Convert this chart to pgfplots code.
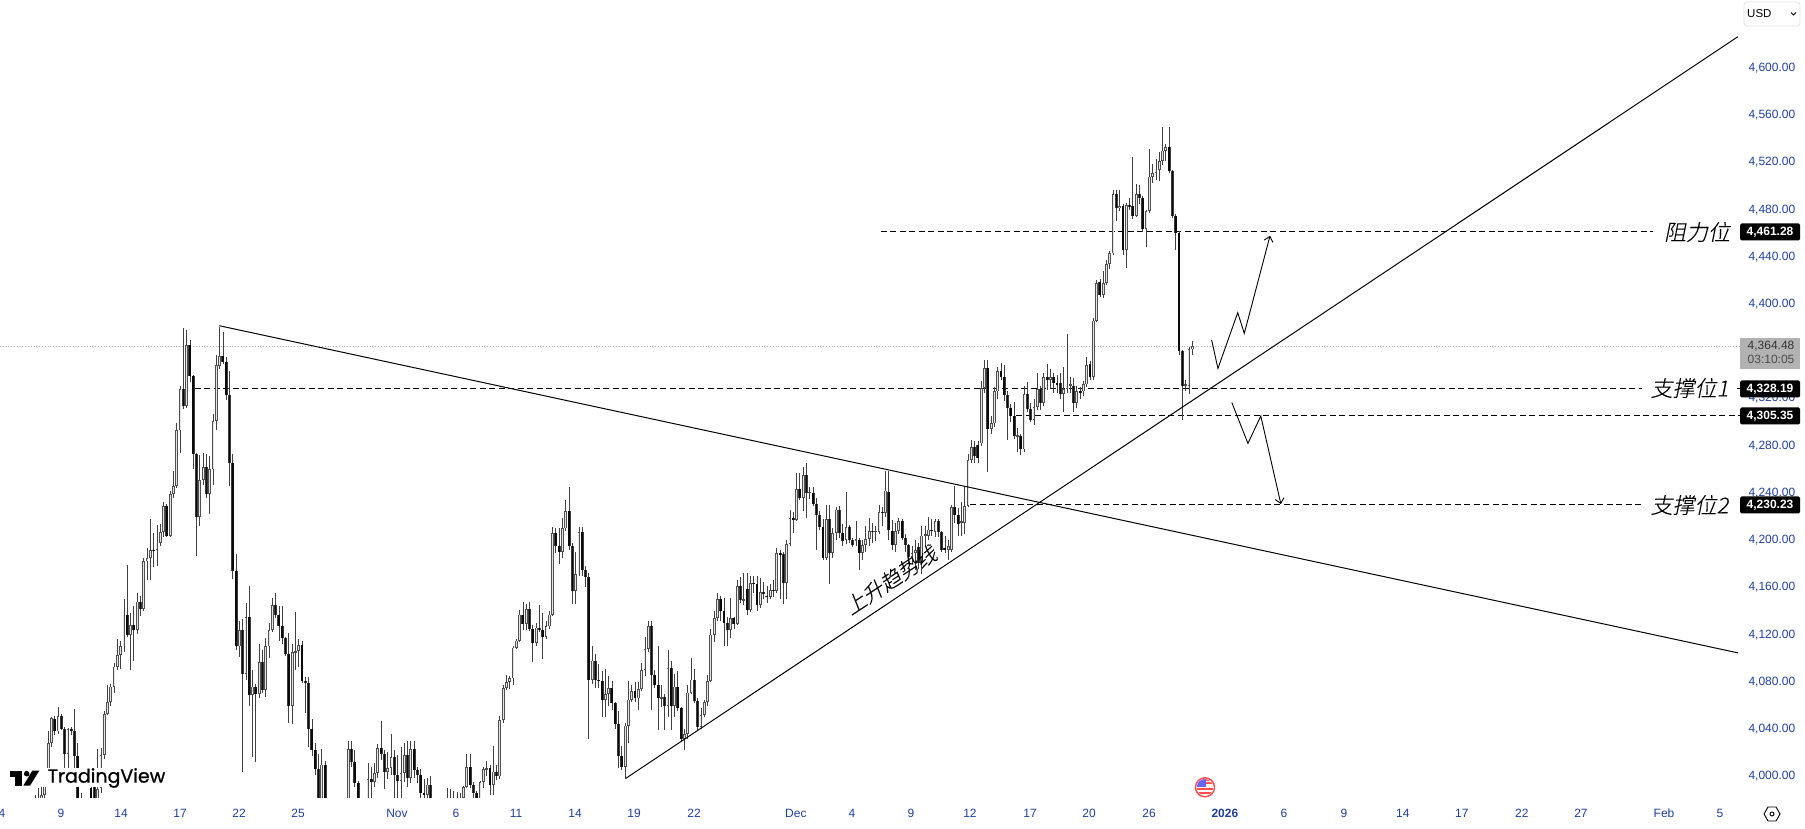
\documentclass[border=0pt]{standalone}
\usepackage{fontspec}
\usepackage{pgfplots}
\usepackage{pgfplotstable}
\pgfplotsset{compat=1.18}
\usetikzlibrary{arrows.meta}
\setmainfont{Liberation Sans}
\newfontfamily\cjk[FakeSlant=0.2,FakeBold=0.15]{Noto Sans CJK SC Light}
\newfontfamily\tvfont[FakeBold=0.8]{Poppins}
\definecolor{tvblue}{HTML}{1F3F9F}
\definecolor{wick}{HTML}{404040}
\definecolor{upedge}{HTML}{505050}
\definecolor{upin}{HTML}{E4E4E4}
\definecolor{dnedge}{HTML}{3A3A3A}
\definecolor{dnbody}{HTML}{0A0A0A}
\pgfplotstableread{
i o h l c
10 3971 3984 3956 3976
11 3974 3990 3966 3981
12 3980 3992 3971 3984
13 3984 4006 3981 4000
14 4000 4038 3996 4028
15 4028 4050 4025 4049
16 4049 4051 4035 4038
17 4038 4059 4036 4051
18 4051 4053 4039 4040
19 4040 4042 4003 4019
20 4019 4041 4003 4040
21 4040 4042 4035 4038
22 4038 4057 4004 4017
23 4017 4028 3976 3981
24 3981 3986 3961 3971
25 3971 3976 3956 3964
26 3966 3971 3946 3956
27 3990 3994 3966 3971
28 3991 3994 3968 3974
29 3974 4023 3971 3989
30 3990 4024 3986 4018
31 4018 4055 4015 4053
32 4053 4077 4052 4063
33 4063 4078 4060 4076
34 4076 4096 4071 4093
35 4093 4116 4090 4103
36 4103 4115 4091 4110
37 4110 4150 4105 4137
38 4137 4179 4118 4120
39 4120 4138 4090 4128
40 4128 4144 4098 4124
41 4124 4155 4121 4148
42 4148 4153 4136 4142
43 4142 4185 4140 4182
44 4182 4193 4166 4185
45 4185 4218 4166 4192
46 4192 4206 4177 4191
47 4192 4213 4178 4198
48 4198 4214 4195 4207
49 4207 4232 4203 4229
50 4229 4231 4203 4204
51 4204 4242 4203 4239
52 4239 4259 4236 4246
53 4246 4299 4244 4293
54 4293 4331 4274 4328
55 4328 4380 4311 4314
56 4314 4378 4312 4365
57 4365 4370 4334 4339
58 4339 4340 4260 4273
59 4273 4274 4187 4220
60 4220 4272 4212 4251
61 4251 4274 4247 4262
62 4262 4273 4236 4239
63 4239 4271 4222 4260
64 4260 4307 4247 4301
65 4301 4357 4293 4348
66 4348 4381 4345 4356
67 4356 4376 4349 4351
68 4351 4355 4319 4323
69 4323 4343 4246 4265
70 4265 4273 4167 4174
71 4174 4188 4107 4110
72 4110 4132 4101 4124
73 4124 4133 4004 4087
74 4087 4147 4082 4135
75 4135 4161 4060 4069
76 4069 4090 4016 4076
77 4076 4078 4012 4070
78 4070 4112 4066 4097
79 4097 4107 4071 4073
80 4073 4117 4067 4110
81 4110 4130 4100 4124
82 4124 4151 4122 4145
83 4145 4155 4134 4137
84 4137 4144 4115 4127
85 4127 4144 4112 4117
86 4117 4118 4102 4104
87 4104 4121 4045 4060
88 4060 4112 4044 4105
89 4105 4139 4090 4106
90 4106 4116 4093 4111
91 4111 4115 4079 4081
92 4081 4084 4054 4079
93 4079 4084 4025 4040
94 4040 4049 4017 4022
95 4022 4028 4001 4006
96 4006 4019 3971 3976
97 3971 4023 3966 4010
98 4010 4013 3966 3974
99 3974 3976 3956 3961
100 3961 3966 3951 3956
101 3956 3964 3946 3958
102 3958 3971 3951 3966
103 3966 3981 3961 3974
104 3968 3980 3956 3976
105 3976 4030 3971 4023
106 4023 4030 4008 4012
107 4012 4022 3991 3994
108 3994 3996 3971 3978
109 3978 3980 3966 3971
110 3971 3982 3961 3978
111 3978 4011 3971 3998
112 3998 4008 3981 3995
113 3995 4011 3991 4003
114 4003 4027 3999 4024
115 4024 4047 4014 4019
116 4019 4022 3989 4004
117 4004 4021 3998 4007
118 4007 4036 4001 4016
119 4016 4022 3981 4001
120 4001 4018 3980 3996
121 3996 4025 3980 4003
122 4003 4028 3995 4018
123 4018 4030 3991 3999
124 3999 4030 3994 4023
125 4023 4030 3999 4005
126 4005 4008 3994 4001
127 4001 4006 3981 3986
128 3986 3998 3980 3984
129 3984 3999 3980 3993
130 3993 4000 3971 3978
131 3978 3980 3965 3970
132 3970 3974 3958 3966
133 3966 3973 3956 3968
134 3968 3976 3960 3973
135 3975 3990 3970 3982
136 3982 3989 3975 3981
137 3981 3988 3978 3982
138 3982 3987 3975 3980
139 3980 3986 3978 3982
140 3982 3992 3980 3991
141 3991 4019 3990 4008
142 4008 4019 3990 3993
143 3993 3995 3982 3986
144 3986 3988 3975 3978
145 3978 3996 3975 3995
146 3995 4008 3990 4006
147 4006 4013 4000 4007
148 4007 4010 3984 3993
149 3993 4026 3984 4004
150 4004 4010 3997 4000
151 4000 4051 3998 4048
152 4048 4077 4045 4075
153 4075 4086 4073 4080
154 4080 4085 4074 4083
155 4083 4110 4077 4109
156 4109 4116 4108 4115
157 4115 4141 4114 4137
158 4137 4148 4124 4129
159 4129 4146 4124 4142
160 4142 4148 4123 4125
161 4125 4128 4097 4113
162 4113 4130 4110 4126
163 4126 4145 4122 4124
164 4124 4138 4099 4118
165 4118 4132 4116 4127
166 4127 4140 4125 4137
167 4137 4211 4136 4206
168 4206 4210 4189 4195
169 4195 4210 4180 4190
170 4190 4219 4185 4210
171 4210 4234 4208 4225
172 4225 4245 4192 4195
173 4195 4198 4146 4157
174 4157 4190 4146 4171
175 4171 4211 4170 4207
176 4207 4211 4170 4175
177 4175 4178 4160 4169
178 4169 4172 4032 4082
179 4082 4110 4078 4098
180 4098 4104 4075 4082
181 4082 4095 4075 4081
182 4081 4089 4050 4065
183 4065 4091 4050 4070
184 4070 4085 4060 4075
185 4075 4081 4056 4062
186 4062 4063 4040 4044
187 4044 4055 4007 4017
188 4017 4026 4005 4008
189 4008 4045 3998 4043
190 4043 4081 4028 4065
191 4065 4077 4063 4072
192 4072 4080 4063 4066
193 4066 4080 4056 4074
194 4074 4096 4072 4090
195 4090 4118 4085 4108
196 4108 4132 4105 4127
197 4127 4132 4056 4086
198 4086 4090 4075 4077
199 4077 4110 4039 4066
200 4066 4077 4059 4067
201 4067 4070 4039 4060
202 4060 4107 4050 4092
203 4092 4098 4039 4060
204 4060 4087 4050 4076
205 4076 4089 4055 4058
206 4058 4059 4030 4032
207 4032 4040 4022 4036
208 4036 4077 4032 4071
209 4071 4100 4070 4082
210 4082 4091 4062 4064
211 4064 4066 4039 4042
212 4042 4058 4040 4052
213 4052 4065 4050 4063
214 4063 4086 4060 4081
215 4081 4125 4080 4120
216 4120 4140 4114 4134
217 4134 4155 4132 4150
218 4150 4153 4132 4140
219 4140 4151 4110 4130
220 4130 4135 4110 4124
221 4124 4151 4117 4134
222 4134 4135 4125 4129
223 4129 4166 4128 4161
224 4161 4169 4147 4149
225 4149 4172 4145 4150
226 4159 4172 4137 4141
227 4141 4170 4139 4164
228 4164 4170 4155 4163
229 4163 4170 4140 4145
230 4145 4168 4143 4156
231 4156 4165 4150 4155
232 4153 4161 4147 4152
233 4152 4163 4150 4158
234 4158 4166 4152 4157
235 4157 4193 4155 4189
236 4189 4192 4150 4188
237 4188 4190 4146 4164
238 4164 4200 4150 4197
239 4197 4226 4195 4219
240 4219 4224 4206 4217
241 4217 4257 4216 4243
242 4243 4257 4234 4236
243 4236 4262 4225 4255
244 4255 4265 4219 4240
245 4240 4245 4235 4241
246 4240 4245 4229 4231
247 4231 4236 4192 4221
248 4221 4225 4209 4211
249 4211 4218 4183 4185
250 4185 4230 4183 4218
251 4218 4230 4163 4189
252 4189 4210 4185 4206
253 4206 4228 4200 4226
254 4226 4229 4202 4206
255 4206 4214 4195 4199
256 4200 4241 4197 4211
257 4211 4213 4198 4200
258 4200 4202 4194 4196
259 4200 4216 4195 4201
260 4200 4202 4175 4189
261 4189 4200 4183 4196
262 4196 4212 4190 4201
263 4201 4219 4195 4208
264 4208 4215 4198 4207
265 4207 4212 4199 4208
266 4207 4230 4205 4224
267 4224 4228 4212 4223
268 4223 4259 4220 4242
269 4241 4259 4200 4209
270 4208 4217 4192 4196
271 4196 4215 4190 4208
272 4208 4219 4205 4216
273 4216 4218 4200 4202
274 4202 4205 4190 4196
275 4196 4197 4180 4186
276 4186 4195 4180 4189
277 4189 4200 4175 4192
278 4194 4198 4176 4181
279 4181 4212 4171 4204
280 4204 4212 4195 4205
281 4204 4220 4200 4209
282 4209 4218 4204 4208
283 4207 4218 4203 4216
284 4216 4218 4203 4207
285 4207 4208 4190 4192
286 4193 4204 4189 4192
287 4192 4200 4183 4195
288 4192 4230 4190 4228
289 4228 4246 4215 4221
290 4221 4227 4204 4214
291 4215 4232 4204 4216
292 4215 4245 4205 4229
293 4229 4273 4228 4268
294 4268 4285 4265 4279
295 4279 4284 4265 4271
296 4281 4284 4265 4270
297 4282 4335 4280 4329
298 4329 4353 4325 4346
299 4346 4353 4258 4294
300 4294 4305 4290 4299
301 4299 4330 4296 4326
302 4326 4347 4320 4343
303 4343 4350 4336 4338
304 4338 4348 4318 4323
305 4323 4326 4285 4312
306 4312 4315 4300 4305
307 4305 4317 4286 4288
308 4288 4295 4275 4289
309 4288 4290 4272 4277
310 4277 4331 4275 4324
311 4324 4334 4309 4311
312 4311 4316 4300 4302
313 4302 4320 4298 4313
314 4313 4342 4310 4328
315 4328 4331 4310 4316
316 4316 4342 4314 4338
317 4338 4349 4327 4336
318 4336 4345 4328 4338
319 4338 4342 4325 4333
320 4333 4340 4325 4332
321 4333 4342 4320 4324
322 4324 4347 4309 4328
323 4328 4375 4325 4331
324 4331 4338 4325 4332
325 4331 4337 4309 4316
326 4316 4331 4312 4326
327 4326 4330 4320 4325
328 4326 4335 4322 4332
329 4332 4355 4330 4348
330 4349 4352 4336 4338
331 4338 4388 4336 4386
332 4386 4420 4385 4418
333 4419 4421 4406 4408
334 4408 4428 4405 4418
335 4418 4437 4416 4434
336 4434 4445 4430 4443
337 4443 4497 4442 4493
338 4493 4497 4470 4481
339 4481 4497 4479 4483
340 4483 4485 4442 4446
341 4446 4486 4431 4484
342 4484 4490 4480 4483
343 4483 4525 4472 4475
344 4475 4502 4474 4493
345 4493 4501 4485 4490
346 4490 4492 4461 4464
347 4464 4480 4448 4479
348 4479 4531 4477 4508
349 4508 4519 4503 4511
350 4511 4523 4505 4514
351 4514 4529 4504 4521
352 4521 4550 4518 4530
353 4530 4536 4521 4533
354 4533 4550 4511 4513
355 4513 4514 4473 4475
356 4475 4476 4446 4460
357 4460 4462 4357 4360
358 4360 4361 4302 4331
359 4331 4336 4326 4332
360 4331 4364 4324 4362
361 4362 4369 4357 4364.5
}\candles
\begin{document}
\begin{tikzpicture}[x=1pt,y=1pt]
\path[use as bounding box] (0,0) rectangle (1805,828);
\begin{axis}[
  at={(0pt,31pt)}, anchor=south west,
  scale only axis, width=1742pt, height=797pt,
  xmin=-0.607, xmax=527.75, ymin=3982.5, ymax=4657.6,
  axis line style={draw=none}, tick style={draw=none},
  ymajorgrids=false,
  ytick={4000,4040,...,4600},
  yticklabel pos=right,
  xtick={0,17.9,36.1,54,71.9,89.8,119.8,137.7,155.9,173.8,191.7,209.9,240.8,257.8,275.7,293.6,311.8,329.7,347.9,370.9,388.8,407,424.9,442.8,461,478.9,504.1,521.1},
  xticklabels={4,9,14,17,22,25,Nov,6,11,14,19,22,Dec,4,9,12,17,20,26,{\bfseries 2026},6,9,14,17,22,27,Feb,5},
  x tick label style={font=\fontsize{12}{14}\selectfont, text=tvblue, anchor=center, yshift=-16pt},
  y tick label style={font=\fontsize{12}{14}\selectfont, text=tvblue, anchor=west, xshift=3pt,
     /pgf/number format/.cd, fixed, fixed zerofill, precision=2, 1000 sep={,}, assume math mode=true},
  scaled y ticks=false,
  every axis plot/.append style={forget plot},
  clip=true,
]
% last price (dotted)
\addplot[color=black!30, line width=0.8pt, dotted] coordinates {(-0.607,4364.48) (527.75,4364.48)};
% horizontal levels
\addplot[black, line width=0.9pt, dash pattern=on 6pt off 3.5pt] coordinates {(266.6,4461.28) (500.8,4461.28)};
\addplot[black, line width=0.9pt, dash pattern=on 6pt off 3.5pt] coordinates {(58.5,4328.19) (527,4328.19)};
\addplot[black, line width=0.9pt, dash pattern=on 6pt off 3.5pt] coordinates {(307.7,4305.35) (527,4305.35)};
\addplot[black, line width=0.9pt, dash pattern=on 6pt off 3.5pt] coordinates {(293.6,4230.23) (527,4230.23)};
% wicks
\addplot[draw=none, mark=none, error bars/.cd, y dir=both, y explicit, error mark=none,
   error bar style={color=wick, line width=0.8pt}]
  table[x=i, y expr=(\thisrow{h}+\thisrow{l})/2, y error expr={(\thisrow{h}-\thisrow{l})/2}] {\candles};
% up bodies
\addplot[draw=none, mark=none, restrict expr to domain={\thisrow{c}-\thisrow{o}}{0:1000},
   error bars/.cd, y dir=both, y explicit, error mark=none,
   error bar style={color=upedge, line width=2.8pt}]
  table[x=i, y expr=(\thisrow{o}+\thisrow{c})/2, y error expr={max((\thisrow{c}-\thisrow{o})/2,0.5)}] {\candles};
\addplot[draw=none, mark=none, restrict expr to domain={\thisrow{c}-\thisrow{o}}{0:1000},
   error bars/.cd, y dir=both, y explicit, error mark=none,
   error bar style={color=upin, line width=1.0pt}]
  table[x=i, y expr=(\thisrow{o}+\thisrow{c})/2, y error expr={max((\thisrow{c}-\thisrow{o})/2-0.7,0)}] {\candles};
% down bodies
\addplot[draw=none, mark=none, restrict expr to domain={\thisrow{c}-\thisrow{o}}{-1000:-0.001},
   error bars/.cd, y dir=both, y explicit, error mark=none,
   error bar style={color=dnedge, line width=2.9pt}]
  table[x=i, y expr=(\thisrow{o}+\thisrow{c})/2, y error expr={max((\thisrow{o}-\thisrow{c})/2,0.5)}] {\candles};
\addplot[draw=none, mark=none, restrict expr to domain={\thisrow{c}-\thisrow{o}}{-1000:-0.001},
   error bars/.cd, y dir=both, y explicit, error mark=none,
   error bar style={color=dnbody, line width=1.6pt}]
  table[x=i, y expr=(\thisrow{o}+\thisrow{c})/2, y error expr={max((\thisrow{o}-\thisrow{c})/2,0.5)}] {\candles};
% trend lines
\addplot[black, line width=1pt] coordinates {(65.9,4381.7) (526.5,4104.6)};
\addplot[black, line width=1pt] coordinates {(189.2,3998.3) (526.5,4626.5)};
% scenario arrows
\addplot[black, line width=0.9pt, -{Straight Barb[length=5pt,width=9pt]}] coordinates {(366.9,4369.5) (368.8,4345.5) (374.8,4392.7) (376.8,4375.2) (384.6,4457.9)};
\addplot[black, line width=0.9pt, -{Straight Barb[length=5pt,width=9pt]}] coordinates {(373,4316.7) (377.9,4282) (381.8,4305.2) (387.9,4230.6)};
\end{axis}
% level labels
\node[fill=white, inner xsep=1pt, inner ysep=1pt, font=\cjk\fontsize{22}{24}\selectfont] at (1697,596) {阻力位};
\node[fill=white, inner xsep=9pt, inner ysep=1pt, font=\cjk\fontsize{22}{24}\selectfont] at (1689.5,440) {支撑位1};
\node[fill=white, inner xsep=9pt, inner ysep=1pt, font=\cjk\fontsize{22}{24}\selectfont] at (1689.5,323) {支撑位2};
\node[rotate=33.4, font=\cjk\fontsize{21}{23}\selectfont] at (890.5,248) {上升趋势线};
% price boxes
\tikzset{pbox/.style={fill=black, text=white, rounded corners=1.5pt, minimum width=60pt, minimum height=17pt, inner sep=0pt, font=\fontsize{12}{14}\selectfont\bfseries}}
\node[pbox] at (1770,596) {4,461.28};
\node[pbox] at (1770,439) {4,328.19};
\node[pbox] at (1770,412) {4,305.35};
\node[pbox] at (1770,323) {4,230.23};
\fill[black!30] (1740,459) rectangle (1800,490);
\node[font=\fontsize{12}{14}\selectfont, text=black!80] at (1771,481.5) {4,364.48};
\node[font=\fontsize{12}{14}\selectfont, text=black!70] at (1771,468.5) {03:10:05};
% USD selector
\draw[draw=black!12, fill=white, rounded corners=3pt, line width=0.8pt] (1744,802) rectangle (1800,826);
\node[anchor=west, inner sep=0pt, font=\fontsize{11.5}{13}\selectfont] at (1747,814) {USD};
\draw[line width=0.8pt] (1791,815.5) -- (1793.5,813) -- (1796,815.5);
% TradingView logo
\fill[white] (8,41) rectangle (170,60);
\fill[black] (10,57.3) rectangle (21.7,51.3);
\fill[black] (15,57.3) rectangle (21.7,42.3);
\fill[black] (26.7,54.3) circle (2.8);
\fill[black] (39.3,57.3) -- (32.3,57.3) -- (23.3,42.3) -- (30,42.3) -- cycle;
\node[anchor=west, inner sep=0pt, font=\tvfont\fontsize{19}{22}\selectfont] at (47.5,50) {TradingView};
% flag marker
\begin{scope}
\draw[draw=red!70!white, line width=1.4pt, fill=white] (1205,40.7) circle (9.5);
\clip (1205,40.7) circle (8.2);
\foreach \yy in {34,38,44,47} {\fill[red!70!white] (1196,\yy) rectangle (1214,\yy+2);}
\fill[blue!60!white] (1196,41) rectangle (1205.5,50);
\end{scope}
% settings icon
\draw[line width=0.9pt] (1764,14) -- (1768,21) -- (1776,21) -- (1780,14) -- (1776,7) -- (1768,7) -- cycle;
\draw[line width=0.9pt] (1772,14) circle (2);
\end{tikzpicture}
\end{document}
